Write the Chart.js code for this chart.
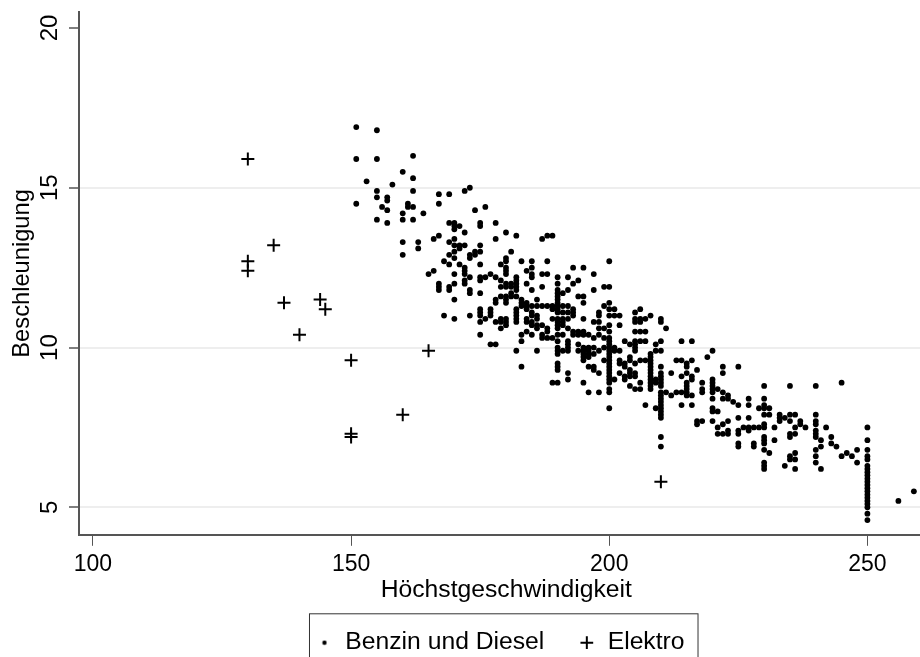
<!DOCTYPE html>
<html>
<head>
<meta charset="utf-8">
<script src="https://cdn.jsdelivr.net/npm/chart.js@4"></script>
<style>
  html, body { margin: 0; padding: 0; background: #fff; overflow: hidden; }
  #wrap { width: 920px; height: 657px; overflow: hidden; }
  canvas { display: block; }
</style>
</head>
<body>
<div id="wrap"><canvas id="myChart" width="942" height="665"></canvas></div>
<script>
// acceleration values per top speed
const speeds = [151,153,155,156,157,158,160,161,162,163,164,165,166,167,168,169,170,171,172,173,174,175,176,177,178,179,180,181,182,183,184,185,186,187,188,189,190,191,192,193,194,195,196,197,198,199,200,201,202,203,204,205,206,207,208,209,210,211,212,213,214,215,216,217,218,219,220,221,222,223,224,225,226,227,228,229,230,231,232,233,234,235,236,237,238,240,241,242,243,244,245,246,247,248,250,256,259];
const accel = [
  [16.9,15.9,14.5],[15.2],[16.8,15.9,14.9,14.7,14.0],[14.4],[14.7,14.6,14.3,13.9],[15.1],
  [15.5,14.2,14.0,13.3,12.9],[14.5,14.4],[16.0,15.3,14.9,14.4,14.0],[13.3,13.1],[14.2],[12.3],[13.4,12.4],
  [14.8,14.5,13.5,12.0,11.9,11.8],[12.7,11.0],[14.8,13.9,13.3,12.9,12.6,11.9,11.8],
  [13.9,13.8,13.7,13.4,13.2,13.0,12.8,12.3,12.0,11.5,10.9],[13.8,13.2,13.1,12.6],
  [14.9,13.6,13.2,12.5,12.4,12.3,12.1,12.0],[15.0,12.9,12.8,12.2,11.8,11.7,11.0],
  [14.3,13.0,12.9],[13.9,13.8,13.2,13.0,12.6,12.2,12.1,11.7,11.2,11.1,11.0,10.8,10.4],[14.4,12.2,10.9],
  [12.3,11.2,11.1,11.0,10.1],[13.9,13.4,12.2,11.5,11.4,10.8,10.1],[12.6,12.1,11.9,11.6,10.9,10.8,10.6],
  [13.6,12.8,12.7,12.5,12.4,12.3,12.0,11.9,11.6,11.5,11.4,10.9,10.8,10.7],[13.0,12.0,11.9,11.7,11.6],
  [13.5,12.2,12.1,12.0,11.9,11.8,11.6,11.2,11.1,11.0,10.9,10.8,9.9],[12.7,11.5,11.4,11.3,10.4,10.2,9.4],
  [12.4,12.0,11.4,11.3,11.2,10.9,10.8,10.5],[12.7,12.5,12.3,12.2,11.8,11.3,11.1,11.0,10.8,10.7,10.4],
  [11.5,11.3,11.0,10.9,10.7,10.6,9.9],[13.4,12.3,11.9,11.3,10.7,10.4,10.3],[13.5,12.7,12.3,11.3,10.6,10.5,10.3],
  [13.5,11.3,11.2,10.9,10.3,8.9],
  [12.2,12.0,11.8,11.7,11.6,11.5,11.4,11.3,11.2,11.1,10.9,10.8,10.7,10.6,10.4,10.2,10.0,9.9,9.8,9.5,9.4,9.3,8.9],
  [11.7,11.3,11.1,10.9,10.8,10.7,10.4,9.9],[12.2,11.8,11.3,11.1,10.9,10.6,10.2,10.1,10.0,9.9,9.2,9.0],
  [12.5,12.0,11.2,11.1,11.0,10.5,10.4],[12.1,11.6,10.5,10.4,10.1,9.9],
  [12.5,11.6,11.4,10.9,10.5,10.4,10.0,9.9,9.8,9.7,9.6,8.9],[10.4,10.0,9.9,9.8,9.7,9.4,8.6],
  [12.3,11.8,10.8,10.3,10.0,9.8,9.4,9.3],[11.1,11.0,10.8,10.6,10.4,9.9,9.2,8.6],[11.9,11.3,10.6,10.3,10.0,9.6],
  [12.7,11.9,11.4,11.2,11.0,10.7,10.5,10.3,10.2,10.1,10.0,9.9,9.8,9.7,9.6,9.5,9.4,9.3,9.2,9.1,9.0,8.9,8.7,8.6,8.1],
  [11.2,11.0,10.0,9.9,9.0],[11.0,10.7,9.9,9.6,9.5,9.2],[10.2,9.5,9.4,9.1,9.0],[10.1,9.7,9.6,9.3,9.2,9.1,8.8],
  [11.1,10.9,10.8,10.5,10.2,10.1,10.0,9.9,9.5,9.2,9.1,8.7],[11.2,10.9,10.8,10.5,10.2,9.6,8.9,8.7],
  [10.9,10.5,10.2,9.6,8.2],[11.0,9.8,9.7,9.6,9.5,9.4,9.3,9.2,9.1,9.0,8.9,8.8,8.7],[10.1,9.9,9.0,8.9,8.1],
  [10.9,10.8,10.2,9.9,9.4,9.2,9.1,9.0,8.9,8.8,8.6,8.5,8.4,8.3,8.2,8.1,8.0,7.9,7.8,7.2,6.9],
  [10.6,8.6],[9.2,8.5],[9.6,8.6],[10.2,9.6,9.1,8.6,8.2],[9.5,9.4,9.2,8.9,8.8,8.7,8.6,8.5],[10.2,9.6,9.1,9.0,8.5,8.2],
  [9.3,7.7,7.6],[8.9,8.7,8.6,7.7],[9.7],[9.9,9.0,8.9,8.8,8.7,8.6,8.4,8.1,8.0,7.7],[8.7,8.0,7.5,7.3],
  [9.4,9.2,8.6,8.4,7.6,7.3],[8.5,8.4,7.7,7.4,7.3],[8.3],[9.4,8.2,7.8,7.4,7.3,7.0,6.9],[7.5],
  [8.4,8.2,7.8,7.5,7.4],[7.5,7.0,6.9],[8.1,7.5],
  [8.8,8.4,8.2,8.1,7.9,7.6,7.5,7.2,7.1,7.0,6.8,6.4,6.3,6.2],[8.1,7.9,6.7],[7.5,7.1],[7.9,7.8,7.7],[7.8,6.3],
  [8.8,7.9,7.7,7.3,7.2,6.6,6.5],[7.9,7.5,7.3,6.7,6.5,6.2],[7.7,7.6],[7.5],
  [8.8,7.9,7.7,7.6,7.4,7.3,7.2,6.8,6.6,6.4],[7.1,6.9,6.2],[7.5],[7.2,7.0],[6.9],[8.9,6.6],[6.7],[6.6],[6.8,6.4],
  [7.5,7.1,6.8,6.6,6.5,6.3,6.2,6.1,6.0,5.9,5.8,5.7,5.6,5.5,5.4,5.3,5.2,5.1,5.0,4.8,4.6],[5.2],[5.5]
];
const elektroSpeed = [130,130,130,135,137,140,144,145,150,150,150,160,165,210];
const elektroAccel = [15.9,12.7,12.4,13.2,11.4,10.4,11.5,11.2,9.6,7.3,7.2,7.9,9.9,5.8];
const xTicks = [100,150,200,250];
const yTicks = [5,10,15,20];

const benzinPoints = [];
speeds.forEach((s, i) => {
  accel[i].forEach(a => benzinPoints.push({x: s, y: a}));
});
const elektroPoints = elektroSpeed.map((s, i) => ({x: s, y: elektroAccel[i]}));

// small dot for the legend, the circle style would come out too big
function legendDot() {
  const c = document.createElement('canvas');
  c.width = 6; c.height = 6;
  const g = c.getContext('2d');
  g.beginPath();
  g.arc(3, 3, 2.2, 0, Math.PI * 2);
  g.fillStyle = '#000';
  g.fill();
  return c;
}

// legend sits a bit left of the plot centre and has a frame round it
const legendShift = 6;
const legendFrame = {
  id: 'legendFrame',
  afterLayout(chart) {
    chart.legend.left -= legendShift;
    chart.legend.right -= legendShift;
  },
  afterDraw(chart) {
    const boxes = chart.legend.legendHitBoxes;
    const first = boxes[0], last = boxes[boxes.length - 1];
    const ctx = chart.ctx;
    ctx.save();
    ctx.strokeStyle = '#333';
    ctx.lineWidth = 1;
    ctx.strokeRect(first.left - 6.5, first.top - 16.5, last.left + last.width - first.left + 20, 80);
    ctx.restore();
  }
};

const family = '"Liberation Sans", Arial, sans-serif';

new Chart(document.querySelector('#myChart'), {
  type: 'scatter',
  data: {
    datasets: [
      {label: 'Benzin und Diesel', data: benzinPoints, pointStyle: 'circle', pointRadius: 2.9, pointHoverRadius: 2.9, backgroundColor: '#000', borderColor: '#000', borderWidth: 0},
      {label: 'Elektro', data: elektroPoints, pointStyle: 'cross', pointRadius: 6.5, pointHoverRadius: 6.5, backgroundColor: '#000', borderColor: '#000', borderWidth: 2}
    ]
  },
  options: {
    responsive: false,
    animation: false,
    layout: {padding: {top: 12, right: 0, left: 0, bottom: 0}},
    plugins: {
      tooltip: {enabled: false},
      legend: {
        position: 'bottom',
        fullSize: false,
        labels: {
          usePointStyle: true,
          boxWidth: 17,
          boxHeight: 9,
          padding: 34,
          color: '#000',
          font: {family: family, size: 24.7},
          generateLabels(chart) {
            const items = Chart.defaults.plugins.legend.labels.generateLabels(chart);
            items[0].pointStyle = legendDot();
            return items;
          }
        }
      }
    },
    scales: {
      x: {
        type: 'linear',
        min: 97.3,
        max: 262.8,
        afterBuildTicks(axis) { axis.ticks = xTicks.map(v => ({value: v})); },
        afterFit(axis) { axis.height = 61.5; },
        grid: {drawOnChartArea: false, color: '#555', tickLength: 11, lineWidth: 1},
        border: {color: '#555', width: 2},
        ticks: {color: '#000', font: {family: family, size: 23}, maxRotation: 0, padding: 5},
        title: {display: true, text: 'Höchstgeschwindigkeit', color: '#000', font: {family: family, size: 24.7, lineHeight: 1}, padding: {top: 0, bottom: -6}}
      },
      y: {
        type: 'linear',
        min: 4.14,
        max: 20.5,
        afterBuildTicks(axis) { axis.ticks = yTicks.map(v => ({value: v})); },
        afterFit(axis) { axis.width = 79; axis.paddingTop = 0; axis.paddingBottom = 0; },
        grid: {
          color: ctx => ctx.tick && ctx.tick.value === 20 ? 'rgba(0,0,0,0)' : '#eeeeee',
          lineWidth: 2, tickColor: '#555', tickLength: 10, tickWidth: 1.5
        },
        border: {color: '#555', width: 2},
        ticks: {color: '#000', font: {family: family, size: 24}, minRotation: 90, maxRotation: 90, crossAlign: 'center', padding: 5},
        title: {display: true, text: 'Beschleunigung', color: '#000', font: {family: family, size: 23.7}, padding: {top: 8, bottom: 0}}
      }
    }
  },
  plugins: [legendFrame]
});
</script>
</body>
</html>
